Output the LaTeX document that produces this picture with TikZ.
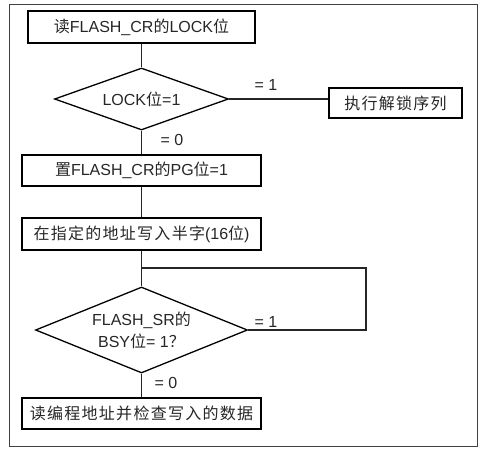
\documentclass[tikz,border=0pt]{standalone}
\usepackage{fontspec}
\setmainfont{Liberation Sans}
\newfontfamily\cjk[LetterSpace=8]{Noto Sans CJK SC}
\newcommand\zh[1]{{\cjk #1}}
\usetikzlibrary{shapes.geometric}
\begin{document}
\begin{tikzpicture}[x=1pt,y=-1pt,
  txt/.style={font=\fontsize{16}{22}\selectfont, text=black!85},
  box/.style={txt, draw, line width=1.8pt, inner sep=0pt},
  dec/.style={txt, draw, line width=1.3pt, shape=diamond, inner sep=0pt, align=center},
  conn/.style={line width=1.3pt, black!85},
  lab/.style={txt, inner sep=0pt}]
\useasboundingbox (0,0) rectangle (486,454);
\draw[line width=1pt, black!75] (9,4.5) rectangle (477,446);
\node[box, minimum width=227pt, minimum height=32pt] (b1) at (141.5,27) {\zh{读}FLASH\_CR\zh{的}LOCK\zh{位}};
\node[dec, minimum width=174pt, minimum height=62pt, aspect=2.8] (d1) at (141.5,99) {LOCK\zh{位}=1};
\node[box, minimum width=133pt, minimum height=30pt] (b5) at (395.5,103) {\zh{执行解锁序列}};
\node[box, minimum width=239pt, minimum height=31pt] (b2) at (141.5,170.5) {\zh{置}FLASH\_CR\zh{的}PG\zh{位}=1};
\node[box, minimum width=239pt, minimum height=32pt] (b3) at (141.5,234) {\zh{在指定的地址写入半字}(16\zh{位})};
\node[dec, minimum width=212pt, minimum height=86pt, aspect=2.5] (d2) at (141.5,330) {FLASH\_SR\zh{的}\\BSY\zh{位}= 1\zh{？}};
\node[box, minimum width=239pt, minimum height=31pt] (b4) at (141.5,413.5) {\zh{读编程地址并检查写入的数据}};
\coordinate (loop) at (366,268);
\node[lab] (l1) at (266,85) {= 1};
\node[lab] (l2) at (172,140) {= 0};
\node[lab] (l3) at (266,322) {= 1};
\node[lab] (l4) at (166,383) {= 0};
\draw[conn] (b1) -- (d1);
\draw[conn] (d1.east) -- (d1.east -| b5.west);
\draw[conn] (d1) -- (b2);
\draw[conn] (b2) -- (b3);
\draw[conn] (b3) -- (d2);
\draw[conn] (d2.east) -| (loop) -- (loop -| d2.north);
\draw[conn] (d2) -- (b4);
\end{tikzpicture}
\end{document}
